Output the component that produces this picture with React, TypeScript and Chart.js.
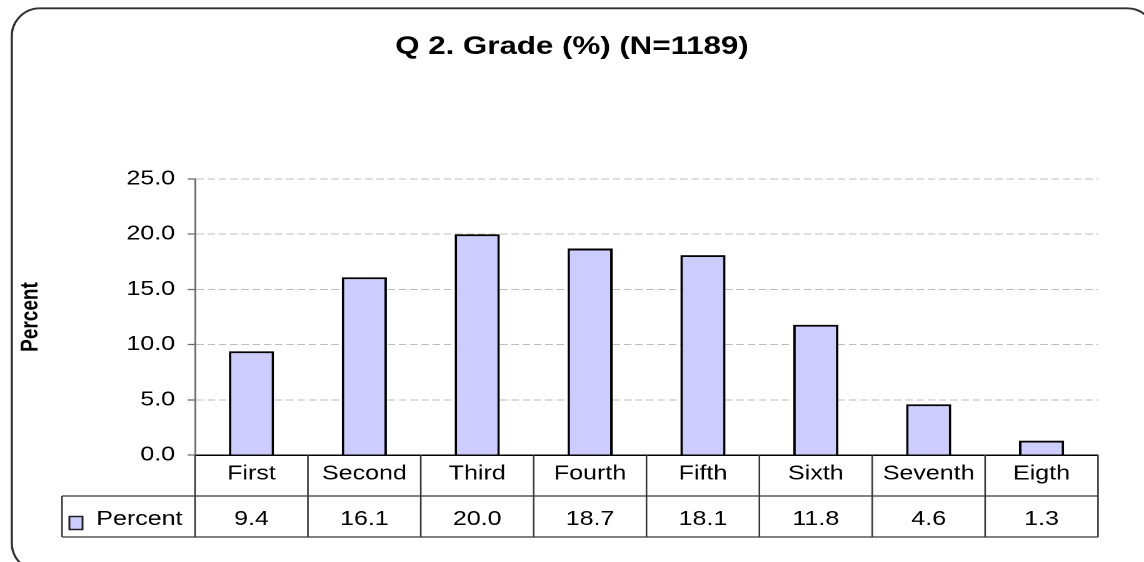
import React, { useEffect, useRef } from "react";
import { Chart, registerables } from "chart.js";

Chart.register(...registerables);

// ---- data ----
const titleText = "Q 2. Grade (%) (N=1189)";
const yAxisTitle = "Percent";
const seriesName = "Percent";
const categories = ["First", "Second", "Third", "Fourth", "Fifth", "Sixth", "Seventh", "Eigth"];
const percentValues = [9.4, 16.1, 20.0, 18.7, 18.1, 11.8, 4.6, 1.3];
const yMin = 0;
const yMax = 25;
const yStep = 5;

// internal canvas width (the reference is horizontally stretched)
const CW = 915;
const CH = 562;
const SIDE_PAD = 36.8;
const FONT = "'Liberation Sans', Arial, Helvetica, sans-serif";
const BAR_FILL = "#CCCCFF";
const LINE = "#383838";

const framePlugin = {
  id: "frame",
  beforeDraw(chart: any) {
    const ctx = chart.ctx;
    ctx.save();
    ctx.fillStyle = "#ffffff";
    ctx.fillRect(0, 0, CW, CH);
    const l = 9.4, t = 8.3, r = 924, b = 571, rx = 22.4, ry = 28;
    ctx.beginPath();
    ctx.moveTo(l + rx, t);
    ctx.lineTo(r - rx, t);
    ctx.ellipse(r - rx, t + ry, rx, ry, 0, -Math.PI / 2, 0);
    ctx.lineTo(r, b - ry);
    ctx.ellipse(r - rx, b - ry, rx, ry, 0, 0, Math.PI / 2);
    ctx.lineTo(l + rx, b);
    ctx.ellipse(l + rx, b - ry, rx, ry, 0, Math.PI / 2, Math.PI);
    ctx.lineTo(l, t + ry);
    ctx.ellipse(l + rx, t + ry, rx, ry, 0, Math.PI, Math.PI * 1.5);
    ctx.closePath();
    ctx.lineWidth = 1.8;
    ctx.strokeStyle = "#303030";
    ctx.stroke();
    ctx.restore();
  },
};

const tablePlugin = {
  id: "dataTable",
  afterDraw(chart: any) {
    const ctx = chart.ctx;
    const xs = chart.scales.x;
    const area = chart.chartArea;
    const n = categories.length;
    const w = (area.right - area.left) / n;
    const rowTop = area.bottom;
    const rowMid = 496;
    const rowBot = 537;
    const tableLeft = 49.6;
    ctx.save();
    ctx.strokeStyle = LINE;
    ctx.lineWidth = 1.3;
    ctx.beginPath();
    for (let k = 0; k <= n; k++) {
      const x = area.left + k * w;
      ctx.moveTo(x, rowTop);
      ctx.lineTo(x, rowBot);
    }
    ctx.moveTo(tableLeft, rowMid);
    ctx.lineTo(tableLeft, rowBot);
    ctx.moveTo(tableLeft, rowMid);
    ctx.lineTo(area.right, rowMid);
    ctx.moveTo(tableLeft, rowBot);
    ctx.lineTo(area.right, rowBot);
    ctx.stroke();

    // legend key
    ctx.fillStyle = BAR_FILL;
    ctx.fillRect(55.5, 516.5, 10.5, 13);
    ctx.strokeStyle = "#202020";
    ctx.lineWidth = 1.5;
    ctx.strokeRect(55.5, 516.5, 10.5, 13);

    ctx.fillStyle = "#000000";
    ctx.font = `20px ${FONT}`;
    ctx.textBaseline = "middle";
    ctx.textAlign = "left";
    ctx.fillText(seriesName, 77, 519.5);
    ctx.textAlign = "center";
    percentValues.forEach((v, i) => {
      const cx = xs.getPixelForValue(i);
      ctx.fillText(v.toFixed(1), cx, 519.5);
    });
    ctx.restore();
  },
};

export default function App() {
  const ref = useRef<HTMLCanvasElement | null>(null);

  useEffect(() => {
    if (!ref.current) return;
    Chart.defaults.font.family = FONT;
    Chart.defaults.color = "#000000";
    const chart = new Chart(ref.current, {
      type: "bar",
      data: {
        labels: categories,
        datasets: [
          {
            label: seriesName,
            data: percentValues,
            backgroundColor: BAR_FILL,
            borderColor: "#000000",
            borderWidth: 2,
            barPercentage: 0.4,
            categoryPercentage: 1.0,
          },
        ],
      },
      options: {
        responsive: false,
        devicePixelRatio: 2,
        animation: false,
        layout: { padding: { left: SIDE_PAD, right: SIDE_PAD, top: 0, bottom: 0 } },
        plugins: {
          legend: { display: false },
          tooltip: { enabled: false },
          title: {
            display: true,
            text: titleText,
            color: "#000000",
            font: { size: 25, weight: "bold", family: FONT },
            padding: { top: 32, bottom: 117 },
          },
        },
        scales: {
          x: {
            offset: true,
            grid: { display: false, drawTicks: false },
            border: { display: true, color: "#000000", width: 1.5 },
            ticks: {
              color: "#000000",
              font: { size: 20, family: FONT },
              padding: 7,
              maxRotation: 0,
              autoSkip: false,
            },
            afterFit: (s: any) => {
              s.height = CH - 455;
            },
          },
          y: {
            min: yMin,
            max: yMax,
            grid: {
              color: (c: any) => (c.tick && c.tick.value === 0 ? "rgba(0,0,0,0)" : "#bdbdbd"),
              lineWidth: 1,
              drawTicks: true,
              tickLength: 6,
              tickColor: "#707070",
              tickWidth: 1.3,
              tickBorderDash: [],
            },
            border: { display: true, color: "#707070", width: 1.5, dash: [6, 3] },
            ticks: {
              stepSize: yStep,
              color: "#000000",
              font: { size: 20, family: FONT },
              padding: 10,
              callback: (v: any) => Number(v).toFixed(1),
            },
            title: {
              display: true,
              text: yAxisTitle,
              color: "#000000",
              font: { size: 19, weight: "bold", family: FONT },
              padding: { top: 24.8 - SIDE_PAD - 11.4, bottom: 0 },
            },
            afterFit: (s: any) => {
              s.width = 156 - SIDE_PAD;
            },
          },
        },
      },
      plugins: [framePlugin, tablePlugin],
    });
    return () => chart.destroy();
  }, []);

  return (
    <div style={{ position: "fixed", left: 0, top: 0, width: "1144px", height: "562px", background: "#fff" }}>
      <canvas
        ref={ref}
        width={CW}
        height={CH}
        style={{ width: "1144px", height: "562px", display: "block" }}
      />
    </div>
  );
}
